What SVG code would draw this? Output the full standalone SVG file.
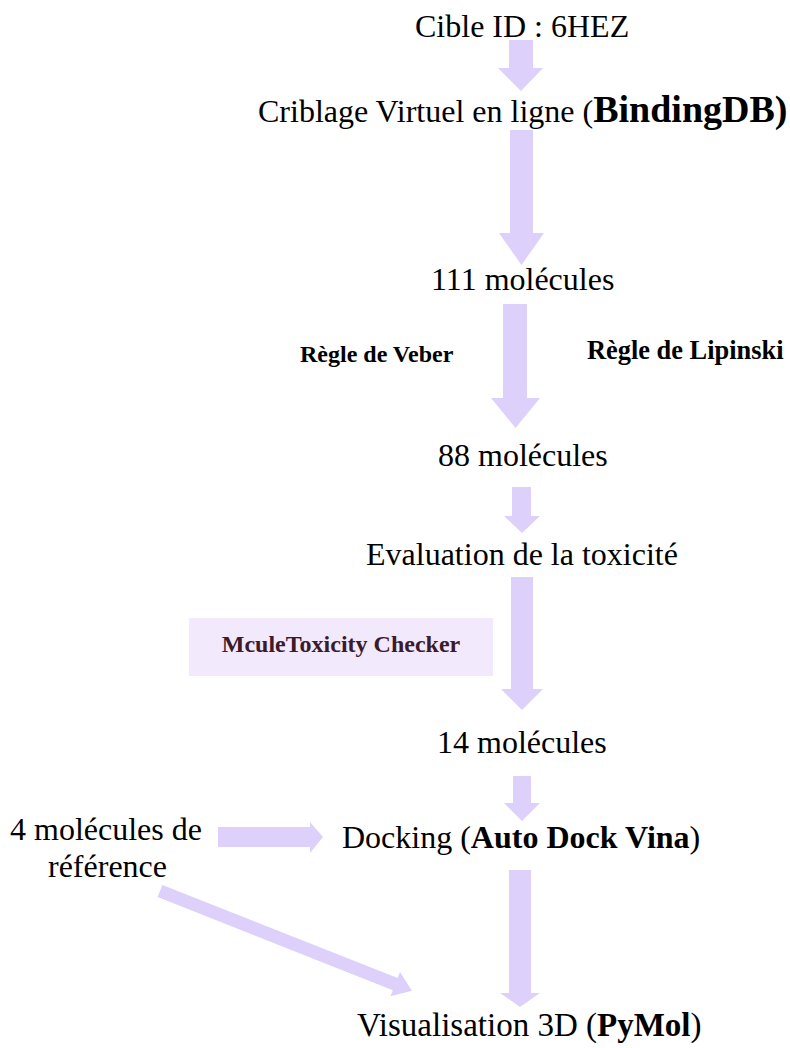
<svg xmlns="http://www.w3.org/2000/svg" width="790" height="1048" viewBox="0 0 790 1048">
<style>
  text { font-family: "Liberation Serif", "Times New Roman", serif; fill: #000; }
  .t { font-size: 32px; }
  .b { font-weight: bold; }
  .lbl { font-size: 24px; font-weight: bold; }
  .arr { fill: #ddd0fb; stroke: none; }
  .box { fill: #f2e9fc; }
  .tox { font-size: 24px; font-weight: bold; fill: #3b1a2b; }
</style>
<rect width="790" height="1048" fill="#ffffff"/>
<g id="connectors">
  <polygon class="arr" points="509,40 533,40 533,68 543,68 521,91 498,68 509,68"/>
  <polygon class="arr" points="510,130 533,130 533,233 544,233 521.5,265 499,233 510,233"/>
  <polygon class="arr" points="503,304 527,304 527,398 540,398 515.5,428 491,398 503,398"/>
  <polygon class="arr" points="512,487 531,487 531,516 540,516 522,533 504,516 512,516"/>
  <polygon class="arr" points="511,577 533,577 533,689 543,689 522,710 501,689 511,689"/>
  <polygon class="arr" points="513,776 531,776 531,803 540,803 522,821 504,803 513,803"/>
  <polygon class="arr" points="509,870 531,870 531,993 540,993 520,1007 500,993 509,993"/>
  <polygon class="arr" points="218,827 310,827 310,822 323,837 310,853 310,847 218,847"/>
  <polygon class="arr" transform="translate(160,891) rotate(21.6)" points="0,-6.5 253,-6.5 253,-13 271,0 253,13 253,6.5 0,6.5"/>
</g>
<g id="n-cible"><text class="t" x="415" y="37">Cible ID : 6HEZ</text></g>
<g id="n-criblage"><text class="t" x="258" y="122">Criblage Virtuel en ligne (<tspan class="b" style="font-size:38px">BindingDB)</tspan></text></g>
<g id="n-111"><text class="t" x="431" y="290">111 molécules</text></g>
<g id="n-veber"><text class="lbl" x="300" y="362">Règle de Veber</text></g>
<g id="n-lipinski"><text class="lbl" x="587" y="359" style="font-size:26.4px">Règle de Lipinski</text></g>
<g id="n-88"><text class="t" x="438" y="466">88 molécules</text></g>
<g id="n-eval"><text class="t" x="366" y="565">Evaluation de la toxicité</text></g>
<g id="n-mcule">
  <rect class="box" x="189" y="618" width="304" height="58"/>
  <text class="tox" x="341" y="652" text-anchor="middle">MculeToxicity Checker</text>
</g>
<g id="n-14"><text class="t" x="437" y="753">14 molécules</text></g>
<g id="n-ref"><text class="t" x="10" y="840">4 molécules de</text><text class="t" x="48" y="877">référence</text></g>
<g id="n-docking"><text class="t" x="342" y="848">Docking (<tspan class="b">Auto Dock Vina</tspan>)</text></g>
<g id="n-visu"><text class="t" x="357" y="1036" style="font-size:33px">Visualisation 3D (<tspan class="b">PyMol</tspan>)</text></g>
</svg>
